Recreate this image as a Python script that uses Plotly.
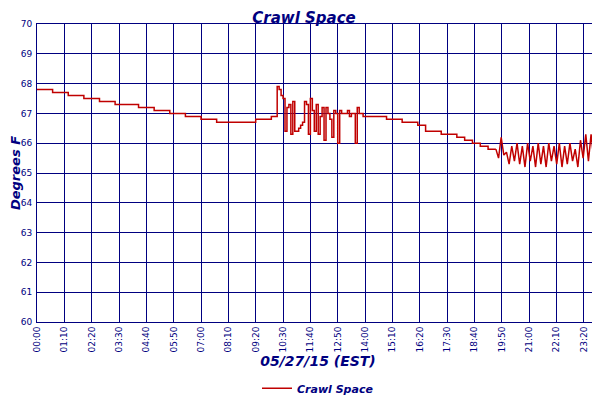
import plotly.graph_objects as go

seg_a = [67.8,67.8,67.7,67.7,67.6,67.6,67.5,67.5,67.4,67.4,67.3,67.3,67.3,67.2,67.2,67.1,67.1,67.0,67.0,66.9,66.9,66.8,66.8,66.7,66.7,66.7,66.7,66.7,66.8,66.8,66.9]
seg_b = [67.9,67.8,67.6,67.5,66.4,67.2,67.3,66.3,67.4,66.4,66.4,66.5,66.6,66.7,67.4,67.3,66.3,67.5,67.1,66.4,67.3,66.3,66.9,67.2,66.1,67.2,67.0,66.8,66.2,67.1,67.0,66.0,67.1,67.0,67.0,67.0,67.1,66.9,67.0,67.0,66.0,67.2,67.0,67.0,66.9,66.9,66.9]
seg_c = [66.9,66.9,66.8,66.8,66.7,66.7,66.6,66.4,66.4,66.3,66.3,66.2,66.1,66.0,65.9,65.8,65.8]
seg_d = [65.8,65.5,66.2,65.6,65.7,65.3,65.9,65.4,66.0,65.3,65.9,65.2,66.0,65.4,65.9,65.2,66.0,65.3,65.9,65.2,66.0,65.4,65.9,65.3,66.0,65.2,65.9,65.3,66.0,65.4,65.8,65.2,66.1,65.5,66.3,65.4,66.3,65.5,65.9,66.0]

t_a = [20*i for i in range(len(seg_a))]
t_b = [615+5*i for i in range(len(seg_b))]
t_c = [855+20*i for i in range(len(seg_c))]
step_d = (1439-1175)/(len(seg_d)-1)
t_d = [1175+step_d*i for i in range(len(seg_d))]
minutes = t_a+t_b+t_c
temps = seg_a+seg_b+seg_c

tick_vals = [70*i for i in range(21)]+[1439]
tick_text = ["%02d:%02d" % (v//60, v%60) for v in tick_vals]

navy = "#000080"
red = "#c00000"
fnt = "Verdana, DejaVu Sans, sans-serif"
fig = go.Figure()
fig.add_trace(go.Scatter(x=minutes, y=temps, mode="lines", line=dict(color=red, width=1.5, shape="hv"), name="<b><i>Crawl Space</i></b>"))
fig.add_trace(go.Scatter(x=t_d, y=seg_d, mode="lines", line=dict(color=red, width=1.5), showlegend=False))
fig.update_layout(
    width=592, height=392, margin=dict(l=29, r=1, t=16, b=78, autoexpand=False),
    paper_bgcolor="white", plot_bgcolor="white",
    title=dict(text="<b><i>Crawl Space</i></b>", x=0.5, xanchor="center", yref="container", y=0.975, yanchor="middle", font=dict(size=15, color=navy, family=fnt)),
    showlegend=True,
    legend=dict(orientation="h", x=0.5, xanchor="center", yref="container", y=0.03, yanchor="middle", font=dict(size=11, color=navy, family=fnt)),
    font=dict(family=fnt, color=navy),
)
fig.update_xaxes(range=[0,1439], tickvals=tick_vals, ticktext=tick_text, tickangle=-90, tickfont=dict(size=9, color=navy),
                 showgrid=True, gridcolor=navy, gridwidth=1, showline=True, linecolor=navy, mirror=True, zeroline=False, automargin=False,
                 title=dict(text="<b><i>05/27/15 (EST)</i></b>", font=dict(size=14, color=navy), standoff=4))
fig.update_yaxes(range=[60,70], dtick=1, tickfont=dict(size=9, color=navy), showgrid=True, gridcolor=navy, gridwidth=1,
                 showline=True, linecolor=navy, mirror=True, zeroline=False, automargin=False, ticklabelstandoff=2,
                 title=dict(text="<b><i>Degrees F</i></b>", font=dict(size=13, color=navy), standoff=0))
fig.write_html("out.html")
